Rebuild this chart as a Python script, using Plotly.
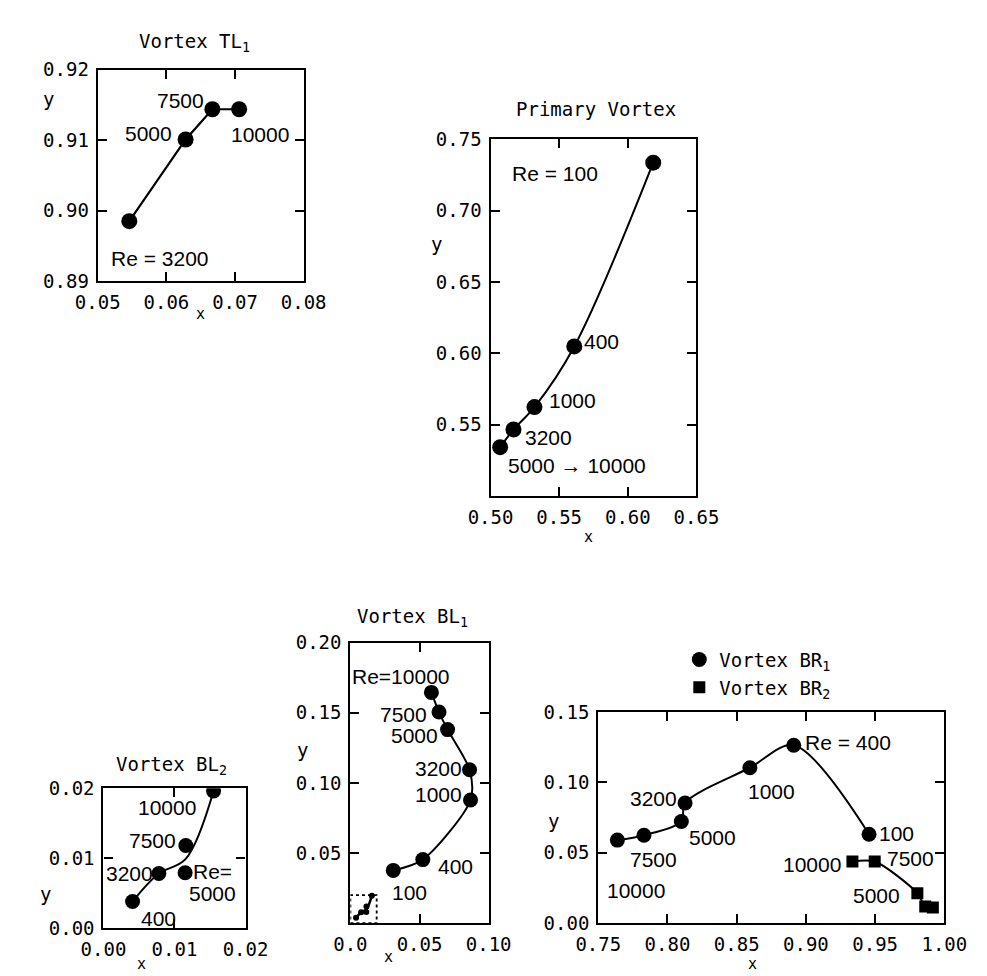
import plotly.graph_objects as go

# ---------------- data ----------------
tl1_re = ["3200", "5000", "7500", "10000"]
tl1_x = [0.0546, 0.0628, 0.0667, 0.0706]
tl1_y = [0.8985, 0.9101, 0.9144, 0.9144]

pv_re = ["100", "400", "1000", "3200", "5000 → 10000"]
pv_x = [0.6185, 0.5610, 0.5320, 0.5167, 0.5070]
pv_y = [0.7336, 0.6048, 0.5623, 0.5466, 0.5342]

bl2_re = ["400", "3200", "5000", "7500", "10000"]
bl2_x = [0.0041, 0.0078, 0.0115, 0.0116, 0.0155]
bl2_y = [0.0038, 0.0078, 0.0079, 0.0118, 0.0196]

bl1_re = ["100", "400", "1000", "3200", "5000", "7500", "10000"]
bl1_x = [0.0310, 0.0524, 0.0869, 0.0862, 0.0703, 0.0641, 0.0586]
bl1_y = [0.0376, 0.0453, 0.0878, 0.1094, 0.1380, 0.1505, 0.1645]

br1_re = ["100", "400", "1000", "3200", "5000", "7500", "10000"]
br1_x = [0.9456, 0.8912, 0.8595, 0.8127, 0.8100, 0.7830, 0.7638]
br1_y = [0.0632, 0.1264, 0.1104, 0.0854, 0.0722, 0.0625, 0.0590]

br2_re = ["10000", "7500", "5000", "3200", "1000"]
br2_x = [0.9336, 0.9497, 0.9805, 0.9862, 0.9917]
br2_y = [0.0438, 0.0438, 0.0213, 0.0118, 0.0111]

# tick values / labels
tl1_xt = [0.05, 0.06, 0.07, 0.08]; tl1_xl = ["0.05", "0.06", "0.07", "0.08"]
tl1_yt = [0.89, 0.90, 0.91, 0.92]; tl1_yl = ["0.89", "0.90", "0.91", "0.92"]
pv_xt = [0.50, 0.55, 0.60, 0.65]; pv_xl = ["0.50", "0.55", "0.60", "0.65"]
pv_yt = [0.55, 0.60, 0.65, 0.70, 0.75]; pv_yl = ["0.55", "0.60", "0.65", "0.70", "0.75"]
bl2_xt = [0.0, 0.01, 0.02]; bl2_xl = ["0.00", "0.01", "0.02"]
bl2_yt = [0.0, 0.01, 0.02]; bl2_yl = ["0.00", "0.01", "0.02"]
bl1_xt = [0.0, 0.05, 0.10]; bl1_xl = ["0.0", "0.05", "0.10"]
bl1_yt = [0.05, 0.10, 0.15, 0.20]; bl1_yl = ["0.05", "0.10", "0.15", "0.20"]
br_xt = [0.75, 0.80, 0.85, 0.90, 0.95, 1.00]; br_xl = ["0.75", "0.80", "0.85", "0.90", "0.95", "1.00"]
br_yt = [0.0, 0.05, 0.10, 0.15]; br_yl = ["0.00", "0.05", "0.10", "0.15"]

# ---------------- layout helpers ----------------
W, H = 987, 976
MONO = "DejaVu Sans Mono"
SANS = "Liberation Sans"
TICK = 19
LAB = 21

def px(x):
    return x / W

def py(y):
    return 1 - y / H

def axis(dom, rng, tv, tt, anchor):
    return dict(domain=dom, range=rng, tickvals=tv, ticktext=tt, anchor=anchor,
                showgrid=False, zeroline=False, showline=True, linewidth=2.2,
                linecolor="black", mirror="ticks", ticks="inside", ticklen=9,
                tickwidth=1.8, tickcolor="black", ticklabelstandoff=3,
                tickfont=dict(family=MONO, size=TICK, color="black"),
                fixedrange=True)

fig = go.Figure()

def add_curve(x, y, xa, ya, shape="spline", smooth=1.0, width=2.0):
    fig.add_trace(go.Scatter(x=x, y=y, xaxis=xa, yaxis=ya, mode="lines",
                             line=dict(color="black", width=width, shape=shape,
                                       smoothing=smooth),
                             showlegend=False, hoverinfo="skip"))

def add_pts(x, y, xa, ya, size=15, symbol="circle", name=None, legend=False):
    fig.add_trace(go.Scatter(x=x, y=y, xaxis=xa, yaxis=ya, mode="markers",
                             marker=dict(color="black", size=size, symbol=symbol),
                             name=name, showlegend=legend))

# TL1 (x, y)
add_curve(tl1_x, tl1_y, "x", "y", shape="linear", width=2.2)
add_pts(tl1_x, tl1_y, "x", "y", size=16)

# Primary (x2, y2)
add_curve(pv_x, pv_y, "x2", "y2", smooth=1.0)
add_pts(pv_x, pv_y, "x2", "y2", size=16)

# BL2 (x3, y3): smooth fitted curve through 400, 3200, mid(5000,7500), 10000
bl2_cx = [bl2_x[0], bl2_x[1], (bl2_x[2] + bl2_x[3]) / 2, bl2_x[4]]
bl2_cy = [bl2_y[0], bl2_y[1], (bl2_y[2] + bl2_y[3]) / 2, bl2_y[4]]
add_curve(bl2_cx, bl2_cy, "x3", "y3", smooth=1.0)
add_pts(bl2_x, bl2_y, "x3", "y3", size=15)

# BL1 (x4, y4)
add_curve(bl1_x, bl1_y, "x4", "y4", smooth=0.8)
add_pts(bl1_x, bl1_y, "x4", "y4", size=15)
# miniature of BL2 inside the dashed box
add_curve(bl2_cx, bl2_cy, "x4", "y4", smooth=1.0, width=2.5)
add_pts(bl2_x, bl2_y, "x4", "y4", size=6)

# BR (x5, y5)
add_curve(br1_x, br1_y, "x5", "y5", smooth=0.9)
add_curve(br2_x, br2_y, "x5", "y5", smooth=0.8)
add_pts(br1_x, br1_y, "x5", "y5", size=15, name="Vortex BR<sub>1</sub>", legend=True)
add_pts(br2_x, br2_y, "x5", "y5", size=12, symbol="square", name="Vortex BR<sub>2</sub>", legend=True)

fig.update_layout(
    width=W, height=H, margin=dict(l=0, r=0, t=0, b=0),
    paper_bgcolor="white", plot_bgcolor="white",
    font=dict(family=MONO, color="black"),
    xaxis=axis([px(70), px(286)], [0.05, 0.08], tl1_xt, tl1_xl, "y"),
    yaxis=axis([py(268), py(52)], [0.89, 0.92], tl1_yt, tl1_yl, "x"),
    xaxis2=axis([px(482), px(698)], [0.50, 0.65], pv_xt, pv_xl, "y2"),
    yaxis2=axis([py(488), py(123)], [0.50, 0.75], pv_yt, pv_yl, "x2"),
    xaxis3=axis([px(76), px(225)], [0.0, 0.02], bl2_xt, bl2_xl, "y3"),
    yaxis3=axis([py(930), py(787)], [0.0, 0.02], bl2_yt, bl2_yl, "x3"),
    xaxis4=axis([px(335), px(480)], [0.0, 0.10], bl1_xt, bl1_xl, "y4"),
    yaxis4=axis([py(925), py(638)], [0.0, 0.20], bl1_yt, bl1_yl, "x4"),
    xaxis5=axis([px(595), px(958)], [0.75, 1.00], br_xt, br_xl, "y5"),
    yaxis5=axis([py(925), py(709)], [0.0, 0.15], br_yt, br_yl, "x5"),
    legend=dict(x=px(680), y=py(636), xanchor="left", yanchor="top",
                font=dict(family=MONO, size=TICK, color="black"),
                bgcolor="rgba(0,0,0,0)", itemsizing="trace", tracegroupgap=0),
    showlegend=True,
)

# dashed box in BL1 marking the BL2 region
fig.add_shape(type="rect", xref="x4", yref="y4", x0=0, y0=0, x1=0.019, y1=0.02,
              line=dict(color="black", width=1.8, dash="dot"))

ann = []

def lab(text, x, y, xr, yr, size=LAB, fam=SANS, xa="center"):
    ann.append(dict(text=text, x=x, y=y, xref=xr, yref=yr, showarrow=False,
                    xanchor=xa, yanchor="middle",
                    font=dict(family=fam, size=size, color="black")))

# titles
lab("Vortex TL<sub>1</sub>", px(172), py(24), "paper", "paper", size=TICK, fam=MONO)
lab("Primary Vortex", px(593), py(92), "paper", "paper", size=TICK, fam=MONO)
lab("Vortex BL<sub>2</sub>", px(147), py(764), "paper", "paper", size=TICK, fam=MONO)
lab("Vortex BL<sub>1</sub>", px(400), py(612), "paper", "paper", size=TICK, fam=MONO)

# axis letters
for (tx, ty) in [(18, 82), (425, 230), (15, 895), (285, 748), (548, 820)]:
    lab("y", px(tx), py(ty), "paper", "paper", size=TICK, fam=MONO)
for (tx, ty) in [(178, 302), (585, 530), (116, 967), (375, 960), (757, 967)]:
    lab("x", px(tx), py(ty), "paper", "paper", size=15, fam=MONO)

# TL1 labels
lab(tl1_re[2], 0.0621, 0.9157, "x", "y")
lab(tl1_re[1], 0.0574, 0.9110, "x", "y")
lab(tl1_re[3], 0.0736, 0.9108, "x", "y")
lab("Re = " + tl1_re[0], 0.0590, 0.8932, "x", "y")

# Primary labels
lab("Re = " + pv_re[0], 0.5472, 0.7260, "x2", "y2")
lab(pv_re[1], 0.5806, 0.6082, "x2", "y2")
lab(pv_re[2], 0.5597, 0.5671, "x2", "y2")
lab(pv_re[3], 0.5424, 0.5411, "x2", "y2")
lab(pv_re[4], 0.5632, 0.5212, "x2", "y2")

# BL2 labels
lab(bl2_re[4], 0.0089, 0.0172, "x3", "y3")
lab(bl2_re[3], 0.0069, 0.0125, "x3", "y3")
lab(bl2_re[1], 0.0036, 0.0078, "x3", "y3")
lab("Re=", 0.0153, 0.0081, "x3", "y3")
lab(bl2_re[2], 0.0153, 0.0050, "x3", "y3")
lab(bl2_re[0], 0.0078, 0.0014, "x3", "y3")

# BL1 labels
lab("Re=" + bl1_re[6], 0.0366, 0.1756, "x4", "y4")
lab(bl1_re[5], 0.0386, 0.1491, "x4", "y4")
lab(bl1_re[4], 0.0462, 0.1338, "x4", "y4")
lab(bl1_re[3], 0.0634, 0.1101, "x4", "y4")
lab(bl1_re[2], 0.0634, 0.0920, "x4", "y4")
lab(bl1_re[1], 0.0759, 0.0404, "x4", "y4")
lab(bl1_re[0], 0.0428, 0.0216, "x4", "y4")

# BR labels
lab("Re = " + br1_re[1], 0.9304, 0.1285, "x5", "y5")
lab(br1_re[2], 0.8753, 0.0938, "x5", "y5")
lab(br1_re[3], 0.7900, 0.0889, "x5", "y5")
lab(br1_re[4], 0.8326, 0.0611, "x5", "y5")
lab(br1_re[5], 0.7900, 0.0451, "x5", "y5")
lab(br1_re[6], 0.7776, 0.0229, "x5", "y5")
lab(br1_re[0], 0.9655, 0.0639, "x5", "y5")
lab(br2_re[1], 0.9759, 0.0458, "x5", "y5")
lab(br2_re[0], 0.9043, 0.0417, "x5", "y5")
lab(br2_re[2], 0.9510, 0.0194, "x5", "y5")

fig.update_layout(annotations=ann)
fig.write_html("out.html")
